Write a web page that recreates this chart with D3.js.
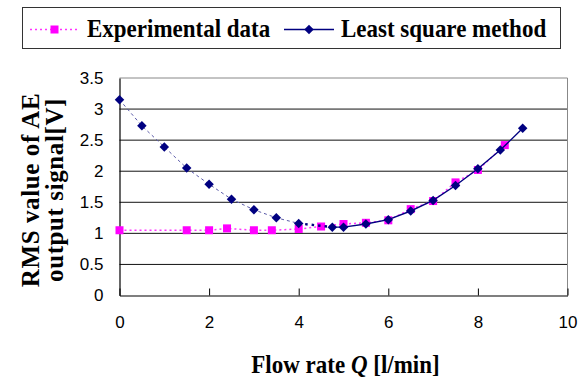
<!DOCTYPE html>
<html>
<head>
<meta charset="utf-8">
<script src="https://cdn.jsdelivr.net/npm/d3@7"></script>
<style>
  body { margin: 0; background: #fff; }
  svg { display: block; }
</style>
</head>
<body>
<svg id="chart" width="586" height="383"></svg>
<script>
// experimental data (magenta squares)
const expX = [0, 1.5, 2, 2.4, 3, 3.4, 4, 4.5, 5, 5.5, 6, 6.5, 7, 7.5, 8, 8.6];
const expY = [1.05, 1.05, 1.05, 1.08, 1.05, 1.05, 1.07, 1.11, 1.15, 1.17, 1.21, 1.39, 1.52, 1.82, 2.02, 2.42];

// least square method (navy diamonds)
const lsqX = [0, 0.5, 1, 1.5, 2, 2.5, 3, 3.5, 4, 4.75, 5, 5.5, 6, 6.5, 7, 7.5, 8, 8.5, 9];
const lsqY = [3.15, 2.73, 2.39, 2.05, 1.79, 1.55, 1.38, 1.25, 1.16, 1.10, 1.10, 1.15, 1.22, 1.36, 1.53, 1.77, 2.04, 2.34, 2.69];

const xTicks = [0, 2, 4, 6, 8, 10];
const yTicks = [0, 0.5, 1, 1.5, 2, 2.5, 3, 3.5];

const svg = d3.select('#chart');
const serif = '"Liberation Serif", "Times New Roman", serif';
const narrow = '"Liberation Sans Narrow", "Arial Narrow", "Liberation Sans", sans-serif';

const x = d3.scaleLinear().domain([0, 10]).range([119.5, 567.5]);
const y = d3.scaleLinear().domain([0, 3.5]).range([295.5, 78]);

// gridlines
svg.append('g')
  .selectAll('line')
  .data(yTicks.filter(d => d > 0 && d < 3.5))
  .enter()
  .append('line')
  .attr('x1', x(0)).attr('x2', x(10))
  .attr('y1', d => y(d)).attr('y2', d => y(d))
  .attr('stroke', '#111')
  .attr('stroke-width', 1);

// plot frame (top / right are grey)
svg.append('path')
  .attr('d', `M${x(0)},${y(3.5)}H${x(10)}V${y(0)}`)
  .attr('fill', 'none')
  .attr('stroke', '#888')
  .attr('stroke-width', 1);

// x axis: ticks pointing inward
const xAxis = d3.axisBottom(x).tickValues(xTicks).tickSizeInner(-7).tickSizeOuter(0).tickPadding(20);
const gx = svg.append('g')
  .attr('transform', `translate(0,${y(0)})`)
  .call(xAxis);
gx.select('.domain').attr('stroke', '#000').attr('stroke-width', 1.2);
gx.selectAll('.tick line').attr('stroke', '#000');
gx.selectAll('.tick text')
  .attr('font-family', narrow)
  .attr('font-size', 17)
  .attr('fill', '#000');

// y axis
const yAxis = d3.axisLeft(y).tickValues(yTicks).tickSize(0).tickPadding(16)
  .tickFormat(d => d === 0 ? '0' : String(d));
const gy = svg.append('g')
  .attr('transform', `translate(${x(0)},0)`)
  .call(yAxis);
gy.select('.domain').attr('stroke', '#000').attr('stroke-width', 1.2);
gy.selectAll('.tick text')
  .attr('font-family', narrow)
  .attr('font-size', 17)
  .attr('fill', '#000');

// experimental series
const expData = expX.map((v, i) => [v, expY[i]]);
const line = d3.line().x(d => x(d[0])).y(d => y(d[1]));

svg.append('path')
  .datum(expData)
  .attr('d', line)
  .attr('fill', 'none')
  .attr('stroke', '#ff33ff')
  .attr('stroke-width', 1.5)
  .attr('stroke-dasharray', '2,3');

svg.append('g')
  .selectAll('rect')
  .data(expData)
  .enter()
  .append('rect')
  .attr('x', d => x(d[0]) - 4)
  .attr('y', d => y(d[1]) - 4)
  .attr('width', 8)
  .attr('height', 8)
  .attr('fill', '#ff00ff');

// least square series: dashed up to 4, dotted to 4.75, solid after
const lsqData = lsqX.map((v, i) => [v, lsqY[i]]);
const segments = [
  { from: 0, to: 8, width: 1, dash: '3,3', color: '#5a5aa8' },
  { from: 8, to: 9, width: 2.5, dash: '2.5,4', color: '#000080' },
  { from: 9, to: lsqData.length - 1, width: 1.4, dash: null, color: '#000080' }
];
segments.forEach(s => {
  svg.append('path')
    .datum(lsqData.slice(s.from, s.to + 1))
    .attr('d', line)
    .attr('fill', 'none')
    .attr('stroke', s.color)
    .attr('stroke-width', s.width)
    .attr('stroke-dasharray', s.dash);
});

const diamond = d3.symbol().type(d3.symbolSquare).size(45);
svg.append('g')
  .selectAll('path')
  .data(lsqData)
  .enter()
  .append('path')
  .attr('d', diamond)
  .attr('transform', d => `translate(${x(d[0])},${y(d[1])}) rotate(45)`)
  .attr('fill', '#000080');

// legend
const legend = svg.append('g');
legend.append('rect')
  .attr('x', 22.5).attr('y', 7.5)
  .attr('width', 538).attr('height', 41)
  .attr('fill', '#fff')
  .attr('stroke', '#333')
  .attr('stroke-width', 1);

legend.append('line')
  .attr('x1', 30).attr('x2', 78).attr('y1', 29.5).attr('y2', 29.5)
  .attr('stroke', '#ff33ff').attr('stroke-width', 1.5).attr('stroke-dasharray', '2,3');
legend.append('rect')
  .attr('x', 50.5).attr('y', 25.5).attr('width', 8).attr('height', 8)
  .attr('fill', '#ff00ff');
legend.append('text')
  .attr('transform', 'translate(87,37) scale(1,1.08)')
  .attr('font-family', serif).attr('font-weight', 'bold').attr('font-size', 23)
  .text('Experimental data');

legend.append('line')
  .attr('x1', 284).attr('x2', 334).attr('y1', 29.5).attr('y2', 29.5)
  .attr('stroke', '#000080').attr('stroke-width', 1.4);
legend.append('path')
  .attr('d', diamond)
  .attr('transform', 'translate(309,29.5) rotate(45)')
  .attr('fill', '#000080');
legend.append('text')
  .attr('transform', 'translate(341,37) scale(1,1.08)')
  .attr('font-family', serif).attr('font-weight', 'bold').attr('font-size', 23)
  .text('Least square method');

// axis titles
const xTitle = svg.append('text')
  .attr('transform', 'translate(345.5,373) scale(1,1.12)')
  .attr('text-anchor', 'middle')
  .attr('font-family', serif).attr('font-weight', 'bold').attr('font-size', 23);
xTitle.append('tspan').text('Flow rate ');
xTitle.append('tspan').attr('font-style', 'italic').text('Q');
xTitle.append('tspan').text(' [l/min]');

const yTitle = svg.append('g').attr('transform', 'translate(0,190) rotate(-90)');
yTitle.append('text')
  .attr('x', 0).attr('y', 39)
  .attr('text-anchor', 'middle')
  .attr('font-family', serif).attr('font-weight', 'bold').attr('font-size', 25)
  .attr('letter-spacing', 0.6)
  .text('RMS value of AE');
yTitle.append('text')
  .attr('x', 0).attr('y', 63)
  .attr('text-anchor', 'middle')
  .attr('font-family', serif).attr('font-weight', 'bold').attr('font-size', 25)
  .attr('letter-spacing', 0.6)
  .text('output signal[V]');
</script>
</body>
</html>
